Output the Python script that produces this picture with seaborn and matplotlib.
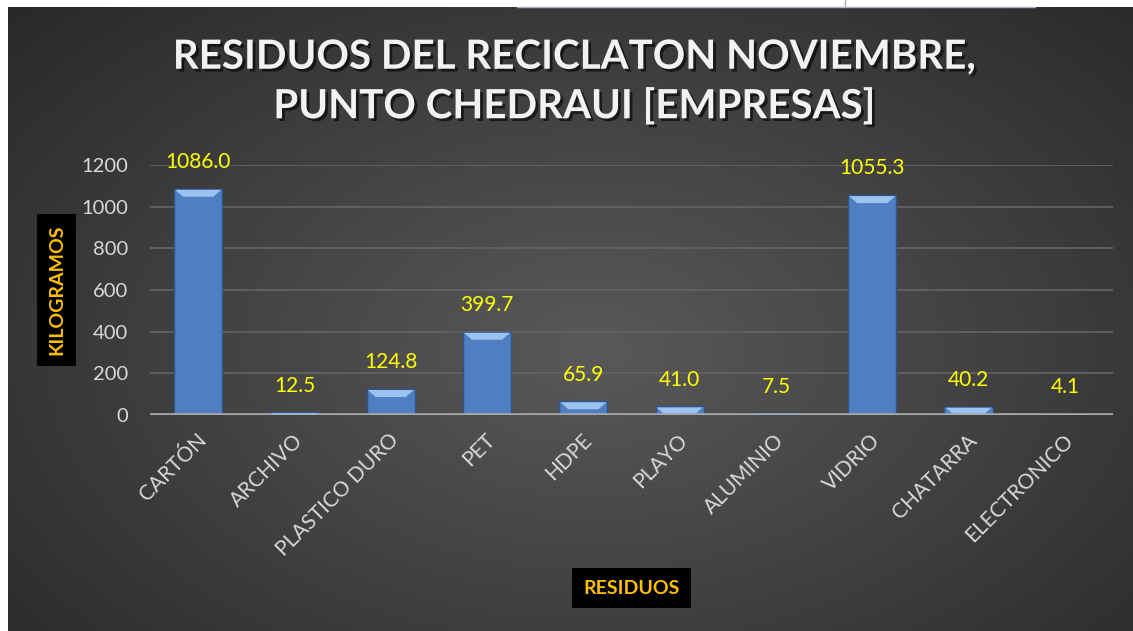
import numpy as np
import pandas as pd
import matplotlib
matplotlib.use("Agg")
import matplotlib.pyplot as plt
import matplotlib.patheffects as pe
import matplotlib.transforms as mtransforms
from matplotlib.patches import Polygon
import seaborn as sns

# data
categorias = ["CARTÓN", "ARCHIVO", "PLASTICO DURO", "PET", "HDPE", "PLAYO",
              "ALUMINIO", "VIDRIO", "CHATARRA", "ELECTRONICO"]
kilos = [1086.0, 12.5, 124.8, 399.7, 65.9, 41.0, 7.5, 1055.3, 40.2, 4.1]
y_ticks = [0, 200, 400, 600, 800, 1000, 1200]

df = pd.DataFrame({"residuo": categorias, "kg": kilos})

sns.set_theme(style="white")
plt.rcParams["font.family"] = ["Lato", "DejaVu Sans"]

W, H = 1133, 631
fig = plt.figure(figsize=(W / 100, H / 100), dpi=100)
fig.patch.set_facecolor("white")

# dark radial gradient panel behind the chart
bg = fig.add_axes([8 / W, 0, (W - 8) / W, (H - 7) / H])
gy, gx = np.mgrid[0:1:300j, 0:1:500j]
r = np.sqrt(((gx - 0.52) / 0.75) ** 2 + ((gy - 0.55) / 0.85) ** 2)
shade = np.clip(0.35 - 0.20 * r, 0.15, 0.36)
bg.imshow(np.dstack([shade] * 3), aspect="auto", extent=[0, 1, 0, 1],
          interpolation="bilinear")
bg.set_axis_off()

# leftover frame lines at the very top (cropped screenshot)
fig.add_artist(plt.Line2D([517 / W, 1035 / W], [1 - 6.5 / H] * 2,
                          color="#b3abc4", lw=1))
fig.add_artist(plt.Line2D([845 / W] * 2, [1 - 6.5 / H, 1], color="#b3abc4", lw=1))

ax = fig.add_axes([150 / W, 1 - 415 / H, 963 / W, 250 / H])
ax.set_facecolor("none")

sns.barplot(data=df, x="residuo", y="kg", color="#4d7fc2", width=0.5,
            edgecolor="#2f5487", linewidth=1, saturation=1, ax=ax, zorder=3)

ax.set_ylim(0, 1200)
ax.set_xlim(-0.5, len(categorias) - 0.5)
ax.set_yticks(y_ticks)
ax.yaxis.grid(True, color="#626262", lw=1.3, zorder=0)
ax.axhline(0, color="#a8a8a8", lw=2.6, zorder=4)
for s in ax.spines.values():
    s.set_visible(False)

ax.tick_params(axis="y", length=0, pad=16, labelsize=14.5, labelcolor="#d9d9d9")
ax.tick_params(axis="x", length=0, pad=16, labelsize=15, labelcolor="#d9d9d9")
shift = mtransforms.ScaledTranslation(5 / 100, 0, fig.dpi_scale_trans)
for lab in ax.get_xticklabels():
    lab.set_rotation(45)
    lab.set_ha("right")
    lab.set_va("center")
    lab.set_rotation_mode("anchor")
    lab.set_transform(lab.get_transform() + shift)

# bevel highlight on top of each bar + value labels
fig.canvas.draw()
inv = ax.transData.inverted()
for p, v in zip(ax.patches, kilos):
    x0, w, h = p.get_x(), p.get_width(), p.get_height()
    (px0, py0) = ax.transData.transform((x0, 0))
    (px1, py1) = ax.transData.transform((x0 + w, h))
    bev = min(8, (py1 - py0) * 0.8)
    pts = [(px0 + 1, py1 - 1), (px1 - 1, py1 - 1), (px1 - 1 - bev, py1 - bev),
           (px0 + 1 + bev, py1 - bev)]
    ax.add_patch(Polygon(inv.transform(pts), closed=True, facecolor="#9cc3f0",
                         edgecolor="none", zorder=4))
    ax.annotate(f"{v:.1f}", (x0 + w / 2, h), xytext=(0, 12),
                textcoords="offset points", ha="center", va="bottom",
                fontsize=15, color="#ffff00", zorder=5)

ax.set_ylabel("KILOGRAMOS", fontsize=14, fontweight="bold", color="#ffc000",
              bbox=dict(facecolor="black", edgecolor="none", pad=8))
ax.yaxis.set_label_coords(-0.088, 0.5)
ax.set_xlabel("RESIDUOS", fontsize=14, fontweight="bold", color="#ffc000",
              bbox=dict(facecolor="black", edgecolor="none", pad=8))
ax.xaxis.set_label_coords(0.5, -0.658)

fig.text(574 / W, 1 - 82 / H,
         "RESIDUOS DEL RECICLATON NOVIEMBRE,\nPUNTO CHEDRAUI [EMPRESAS]",
         ha="center", va="center", fontsize=29, fontweight="bold",
         color="#f2f2f2", linespacing=1.38,
         path_effects=[pe.withSimplePatchShadow(offset=(2, -2),
                                                 shadow_rgbFace="black",
                                                 alpha=0.6)])

fig.savefig("out.png", dpi=100, facecolor=fig.get_facecolor())
